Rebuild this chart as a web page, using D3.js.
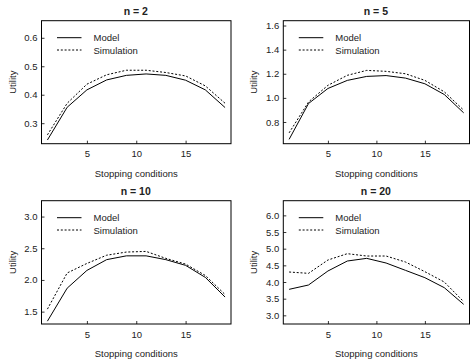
<!DOCTYPE html>
<html>
<head>
<meta charset="utf-8">
<script src="https://cdn.jsdelivr.net/npm/d3@7"></script>
<style>
  body { margin: 0; background: #fff; }
  text { font-family: "Liberation Sans", Arial, sans-serif; fill: #222; }
</style>
</head>
<body>
<div id="chart"></div>
<script>
// stopping conditions (x values)
const stops = [1, 3, 5, 7, 9, 11, 13, 15, 17, 19];
const titles = ['n = 2', 'n = 5', 'n = 10', 'n = 20'];

const model2 = [0.241, 0.356, 0.417, 0.452, 0.468, 0.473, 0.468, 0.451, 0.417, 0.355];
const sim2 = [0.259, 0.370, 0.437, 0.470, 0.486, 0.486, 0.478, 0.466, 0.431, 0.370];
const model5 = [0.656, 0.953, 1.078, 1.145, 1.178, 1.185, 1.164, 1.117, 1.028, 0.876];
const sim5 = [0.710, 0.966, 1.104, 1.187, 1.228, 1.220, 1.200, 1.145, 1.050, 0.898];
const model10 = [1.35, 1.87, 2.15, 2.32, 2.38, 2.38, 2.32, 2.23, 2.04, 1.73];
const sim10 = [1.54, 2.11, 2.26, 2.39, 2.44, 2.45, 2.34, 2.25, 2.07, 1.77];
const model20 = [3.78, 3.91, 4.33, 4.63, 4.71, 4.57, 4.35, 4.13, 3.83, 3.33];
const sim20 = [4.30, 4.26, 4.66, 4.85, 4.78, 4.78, 4.60, 4.31, 4.00, 3.41];

const yTicks = [
  [0.3, 0.4, 0.5, 0.6],
  [0.8, 1.0, 1.2, 1.4, 1.6],
  [1.5, 2.0, 2.5, 3.0],
  [3.0, 3.5, 4.0, 4.5, 5.0, 5.5, 6.0]
];
const yDomains = [[0.228, 0.66], [0.62, 1.64], [1.305, 3.25], [2.74, 6.44]];
const xTicks = [5, 10, 15];
const xDomain = [0.4, 19.6];
const legendLabels = ['Model', 'Simulation'];

const models = [model2, model5, model10, model20];
const sims = [sim2, sim5, sim10, sim20];

const width = 470, height = 362;
const svg = d3.select('#chart').append('svg')
  .attr('width', width)
  .attr('height', height);

// plot boxes: left, top, right, bottom
const boxes = [
  [41.5, 20.7, 231, 143.7],
  [283.3, 20.7, 469.5, 143.7],
  [41.5, 200.7, 231, 324],
  [283.3, 200.7, 469.5, 324]
];

boxes.forEach((b, i) => {
  const [l, t, r, bt] = b;
  const x = d3.scaleLinear().domain(xDomain).range([l, r]);
  const y = d3.scaleLinear().domain(yDomains[i]).range([bt, t]);
  const g = svg.append('g');

  // x axis
  const xa = g.append('g')
    .attr('transform', `translate(0,${bt})`)
    .call(d3.axisBottom(x).tickValues(xTicks).tickSizeInner(-3).tickSizeOuter(0).tickPadding(7));
  // y axis
  const ya = g.append('g')
    .attr('transform', `translate(${l},0)`)
    .call(d3.axisLeft(y).tickValues(yTicks[i]).tickFormat(d3.format('.1f')).tickSizeInner(-3).tickSizeOuter(0).tickPadding(4));
  [xa, ya].forEach(a => {
    a.select('.domain').remove();
    a.selectAll('line').attr('stroke', '#000').attr('stroke-width', 0.8);
    a.selectAll('text').style('font-size', '9.5px').attr('fill', '#222');
  });

  // frame
  g.append('rect')
    .attr('x', l).attr('y', t)
    .attr('width', r - l).attr('height', bt - t)
    .attr('fill', 'none')
    .attr('stroke', '#000')
    .attr('stroke-width', 1);

  const line = d3.line()
    .x((d, j) => x(stops[j]))
    .y(d => y(d));

  g.append('path')
    .datum(models[i])
    .attr('d', line)
    .attr('fill', 'none')
    .attr('stroke', '#000')
    .attr('stroke-width', 1);

  g.append('path')
    .datum(sims[i])
    .attr('d', line)
    .attr('fill', 'none')
    .attr('stroke', '#000')
    .attr('stroke-width', 1)
    .attr('stroke-dasharray', '2,1.8');

  // title
  g.append('text')
    .attr('x', (l + r) / 2 - 0.5)
    .attr('y', t - 6)
    .attr('text-anchor', 'middle')
    .style('font-size', '10.5px')
    .style('font-weight', 'bold')
    .attr('fill', '#000')
    .text(titles[i]);

  // axis labels
  g.append('text')
    .attr('x', (l + r) / 2)
    .attr('y', bt + 33)
    .attr('text-anchor', 'middle')
    .style('font-size', '9.5px')
    .text('Stopping conditions');

  g.append('text')
    .attr('transform', `translate(${l - 26},${(t + bt) / 2}) rotate(-90)`)
    .attr('text-anchor', 'middle')
    .style('font-size', '9.5px')
    .text('Utility');

  // legend
  legendLabels.forEach((lab, k) => {
    const ly = t + 17 + k * 12.3;
    g.append('line')
      .attr('x1', l + 15.5).attr('x2', l + 40)
      .attr('y1', ly).attr('y2', ly)
      .attr('stroke', '#000')
      .attr('stroke-width', 1)
      .attr('stroke-dasharray', k === 1 ? '2,1.8' : null);
    g.append('text')
      .attr('x', l + 52)
      .attr('y', ly + 3.5)
      .style('font-size', '9.5px')
      .text(lab);
  });
});
</script>
</body>
</html>
